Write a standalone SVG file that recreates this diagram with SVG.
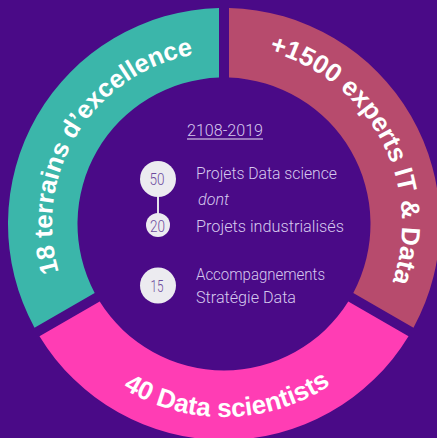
<svg xmlns="http://www.w3.org/2000/svg" width="437" height="438" viewBox="0 0 437 438">
<style>
.ring-label{font-family:"Liberation Sans",Arial,sans-serif;font-weight:700;fill:#ffffff;text-anchor:middle;}
.lbl{font-family:Roboto,"Liberation Sans",sans-serif;font-weight:300;fill:#d6c8ee;font-size:17px;}
.num{font-family:Roboto,"Liberation Sans",sans-serif;font-weight:300;fill:#6d4c9e;font-size:16.5px;text-anchor:middle;}
.badge{fill:#ecebf0;}
.conn{stroke:#e4e0ea;stroke-width:2;fill:none;}
</style>
<defs>
<path id="pTeal" d="M 113.44 355.76 A 172 172 0 0 1 282.83 62.37"/>
<path id="pRose" d="M 163.12 56.73 A 178 178 0 0 1 338.42 360.36"/>
<path id="pPink" d="M 42.64 290.01 A 193 193 0 0 0 405.36 290.01"/>
</defs>
<rect width="437" height="438" fill="#4a0a87"/>
<g id="seg-teal">
<path fill="#3bb6aa" d="M 34.49 327.64 A 216 216 0 0 1 219 8.06 L 219 77.59 A 146.5 146.5 0 0 0 94.70 292.88 Z"/>
<text class="ring-label" font-size="25.5"><textPath href="#pTeal" startOffset="245.3">18 terrains d’excellence</textPath></text>
</g>
<g id="seg-rose">
<path fill="#b74b6d" d="M 229 8.06 A 216 216 0 0 1 413.51 327.64 L 353.30 292.88 A 146.5 146.5 0 0 0 229 77.59 Z"/>
<text class="ring-label" font-size="26"><textPath href="#pRose" startOffset="254">+1500 experts IT &amp; Data</textPath></text>
</g>
<g id="seg-pink">
<path fill="#ff3db4" d="M 408.51 336.30 A 216 216 0 0 1 39.49 336.30 L 99.70 301.54 A 146.5 146.5 0 0 0 348.30 301.54 Z"/>
<text class="ring-label" font-size="26"><textPath href="#pPink" startOffset="239">40 Data scientists</textPath></text>
</g>
<g id="title">
<text class="lbl" x="187" y="135.5" font-size="19.5" fill="#ebe3f6" textLength="76" lengthAdjust="spacingAndGlyphs">2108-2019</text>
<line x1="187" y1="139" x2="263" y2="139" stroke="#ebe3f6" stroke-width="1.2"/>
</g>
<g id="connectors">
<line class="conn" x1="158" y1="196" x2="158" y2="214"/>
</g>
<g id="node-50">
<circle class="badge" cx="158" cy="179" r="18"/>
<text class="num" x="157" y="185" textLength="15" lengthAdjust="spacingAndGlyphs">50</text>
<text class="lbl" x="196" y="178.5" textLength="141" lengthAdjust="spacingAndGlyphs">Projets Data science</text>
<text class="lbl" x="198" y="204.5" font-style="italic" textLength="31" lengthAdjust="spacingAndGlyphs">dont</text>
</g>
<g id="node-20">
<circle class="badge" cx="158" cy="225" r="12"/>
<text class="num" x="157.5" y="232" font-size="15.5" textLength="15" lengthAdjust="spacingAndGlyphs">20</text>
<text class="lbl" x="196" y="231.5" textLength="148" lengthAdjust="spacingAndGlyphs">Projets industrialisés</text>
</g>
<g id="node-15">
<circle class="badge" cx="158" cy="285.5" r="18"/>
<text class="num" x="157" y="292" textLength="13" lengthAdjust="spacingAndGlyphs">15</text>
<text class="lbl" x="196" y="280" textLength="129" lengthAdjust="spacingAndGlyphs">Accompagnements</text>
<text class="lbl" x="196" y="302.5" textLength="100" lengthAdjust="spacingAndGlyphs">Stratégie Data</text>
</g>
</svg>
